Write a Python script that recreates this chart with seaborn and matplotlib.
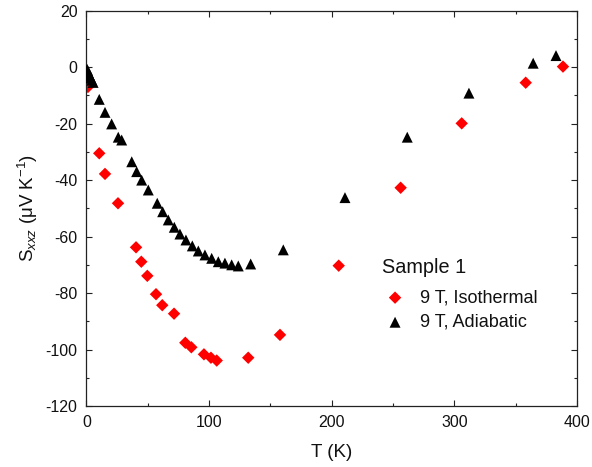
import numpy as np
import pandas as pd
import matplotlib
matplotlib.use("Agg")
import matplotlib.pyplot as plt
from matplotlib.ticker import MultipleLocator
import seaborn as sns

# Isothermal data at 9 T
T_iso = [1.2, 10.4, 15.1, 25.7, 40.4, 44.7, 49.6, 56.7, 61.8, 71.4, 80.6, 85.5,
         95.8, 101.5, 106.2, 131.9, 157.8, 205.7, 256.2, 306.0, 358.2, 388.6]
S_iso = [-7.0, -30.5, -37.8, -48.2, -63.8, -68.9, -73.9, -80.4, -84.3, -87.3, -97.6, -99.2,
         -101.7, -102.9, -103.9, -102.9, -94.8, -70.3, -42.7, -19.9, -5.5, 0.2]

# Adiabatic data at 9 T
T_adi = [0.6, 1.2, 1.8, 2.6, 3.4, 4.4, 5.4, 10.4, 15.1, 20.5, 25.9, 28.7, 36.9, 40.9,
         45.0, 50.4, 57.7, 62.1, 66.7, 71.6, 76.2, 81.1, 86.3, 91.2, 96.6, 102.1,
         107.5, 112.9, 118.4, 123.8, 133.9, 160.5, 210.8, 261.6, 311.9, 364.3, 382.9]
S_adi = [-0.8, -1.5, -2.3, -3.0, -3.8, -4.6, -5.4, -11.4, -16.0, -20.1, -24.8, -25.8,
         -33.5, -37.0, -40.0, -43.5, -48.2, -51.2, -54.1, -56.7, -59.1, -61.2, -63.3,
         -65.1, -66.5, -67.7, -68.9, -69.4, -70.0, -70.4, -69.7, -64.7, -46.2, -24.8,
         -9.2, 1.4, 4.1]

labels = ["9 T, Isothermal", "9 T, Adiabatic"]
colors = ["#ff0000", "#000000"]
legend_title = "Sample 1"

df = pd.concat([
    pd.DataFrame({"T": T_iso, "S": S_iso, "series": labels[0]}),
    pd.DataFrame({"T": T_adi, "S": S_adi, "series": labels[1]}),
], ignore_index=True)

sns.set_theme(style="ticks")
plt.rcParams["font.family"] = ["Liberation Sans", "DejaVu Sans"]
plt.rcParams["mathtext.fontset"] = "custom"
plt.rcParams["mathtext.rm"] = "Liberation Sans"
plt.rcParams["mathtext.it"] = "Liberation Sans:italic"
plt.rcParams["axes.unicode_minus"] = False

fig = plt.figure(figsize=(5.92, 4.67), dpi=100)
ax = fig.add_axes([0.1461, 0.1306, 0.8285, 0.8465])

# Isothermal diamonds below, adiabatic triangles on top where they overlap
sns.scatterplot(data=df[df.series == labels[0]], x="T", y="S", marker="D", s=40,
                color=colors[0], edgecolor="none", linewidth=0, ax=ax,
                label=labels[0], zorder=2)
sns.scatterplot(data=df[df.series == labels[1]], x="T", y="S", marker="^", s=62,
                color=colors[1], edgecolor="none", linewidth=0, ax=ax,
                label=labels[1], zorder=3)

ax.set_xlim(0, 400)
ax.set_ylim(-120, 20)
ax.xaxis.set_major_locator(MultipleLocator(100))
ax.xaxis.set_minor_locator(MultipleLocator(50))
ax.yaxis.set_major_locator(MultipleLocator(20))
ax.yaxis.set_minor_locator(MultipleLocator(10))

for side in ["top", "right", "bottom", "left"]:
    ax.spines[side].set_visible(True)
    ax.spines[side].set_linewidth(0.9)
    ax.spines[side].set_color("#222222")

ax.tick_params(which="both", direction="in", top=True, right=True,
               colors="#222222", width=0.8, labelsize=11.5, pad=6.5)
ax.tick_params(which="major", length=4.5)
ax.tick_params(which="minor", length=2.5)
for lab in ax.get_xticklabels() + ax.get_yticklabels():
    lab.set_color("#111111")

ax.set_xlabel("T (K)", fontsize=13.5, color="#111111", labelpad=10)
ax.set_ylabel(r"S$_{\mathit{xxz}}$ ($\mathrm{\mu}$V K$^{-1}$)", fontsize=13.5,
              color="#111111", labelpad=4)

leg = ax.legend(loc="upper left", bbox_to_anchor=(0.6015, 0.295),
                frameon=False, fontsize=13, scatterpoints=1,
                handlelength=1.5, handletextpad=0.64, labelspacing=0.42,
                borderpad=0.0, borderaxespad=0.0)
for t in leg.get_texts():
    t.set_color("#111111")
ax.text(0.602, 0.3516, legend_title, transform=ax.transAxes, fontsize=14.3,
        ha="left", va="center", color="#111111")

fig.savefig("out.png", dpi=100, facecolor="white")
